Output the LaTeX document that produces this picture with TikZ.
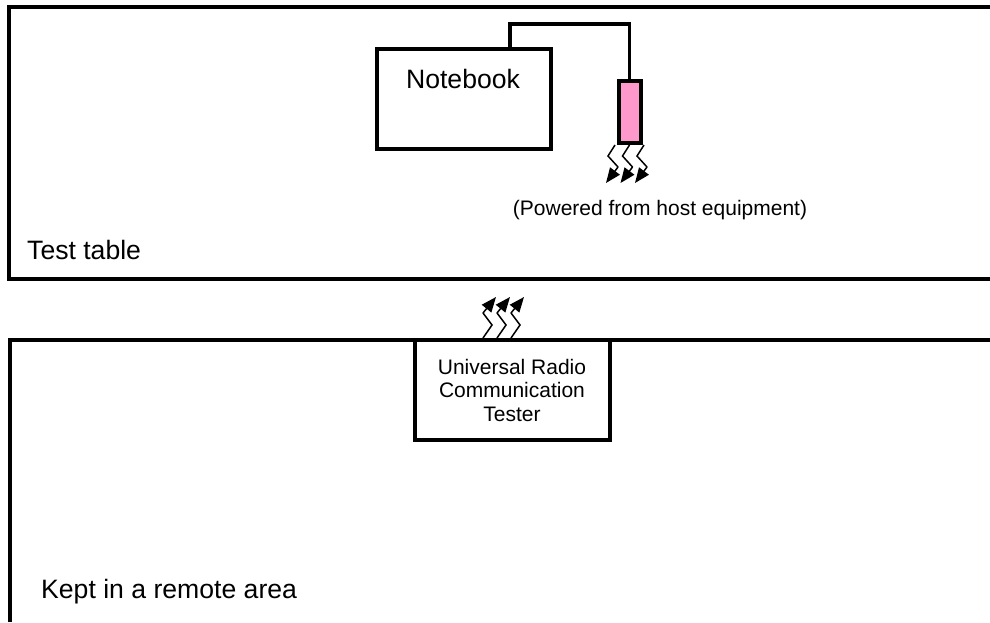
\documentclass[tikz,border=0pt]{standalone}
\usepackage{fontspec}
\setmainfont{Liberation Sans}
\usetikzlibrary{arrows.meta, positioning}
\definecolor{antennapink}{RGB}{255,153,204}

\begin{document}
\begin{tikzpicture}[x=1pt, y=-1pt,
    every node/.style={text=black, inner sep=0pt},
    boxline/.style={draw=black, line width=4pt, line join=miter},
    wireline/.style={draw=black, line width=3.5pt},
    radioline/.style={draw=black, line width=1.5pt},
    radiotip/.style={radioline, -{Triangle[length=15pt, width=12pt]}},
    bigtext/.style={font=\fontsize{26.6}{30}\selectfont},
    smalltext/.style={font=\fontsize{21}{23.5}\selectfont, align=center}]

  \useasboundingbox (0,0) rectangle (990,622);

  % Frames, open towards the page edge
  \draw[boxline] (990,7) -- (9,7) -- (9,279) -- (990,279);
  \draw[boxline] (10,622) -- (10,340) -- (990,340);

  % Notebook and antenna
  \node[boxline, minimum width=174pt, minimum height=100pt] (notebook) at (463.5,98.5) {};
  \node[bigtext] (notebooklabel) at (463,79) {Notebook};
  \node[boxline, fill=antennapink, minimum width=22pt, minimum height=62pt] (antenna) at (629.5,112) {};

  % Wire
  \coordinate (wireturn) at (510,24);
  \draw[wireline] (wireturn |- notebook.north) -- (wireturn) -| (antenna.north);

  % Tester
  \node[boxline, fill=white, minimum width=195pt, minimum height=100pt] (tester) at (512.5,390) {};
  \node[smalltext] (testerlabel) at (512,390) {Universal Radio\\Communication\\Tester};

  % Radio links
  \foreach \i in {0,1,2} {
    \coordinate (down\i) at (615+14.5*\i,145);
    \coordinate (downbend\i) at (618+14.5*\i,167);
    \draw[radioline] (down\i) -- ++(-7,11) -- (downbend\i);
    \draw[radiotip] (downbend\i) -- ++(-12,16);
    \coordinate (up\i) at (483+14*\i,338);
    \coordinate (upbend\i) at (483+14*\i,313);
    \draw[radioline] (up\i) -- ++(9,-13) -- (upbend\i);
    \draw[radiotip] (upbend\i) -- ++(13,-16);
  }

  % Labels
  \node[smalltext] (powerlabel) at (660,210) {(Powered from host equipment)};
  \node[bigtext, anchor=west] (tablelabel) at (27,250) {Test table};
  \node[bigtext, anchor=west] (remotelabel) at (41,592) {Kept in a remote area};
\end{tikzpicture}
\end{document}
